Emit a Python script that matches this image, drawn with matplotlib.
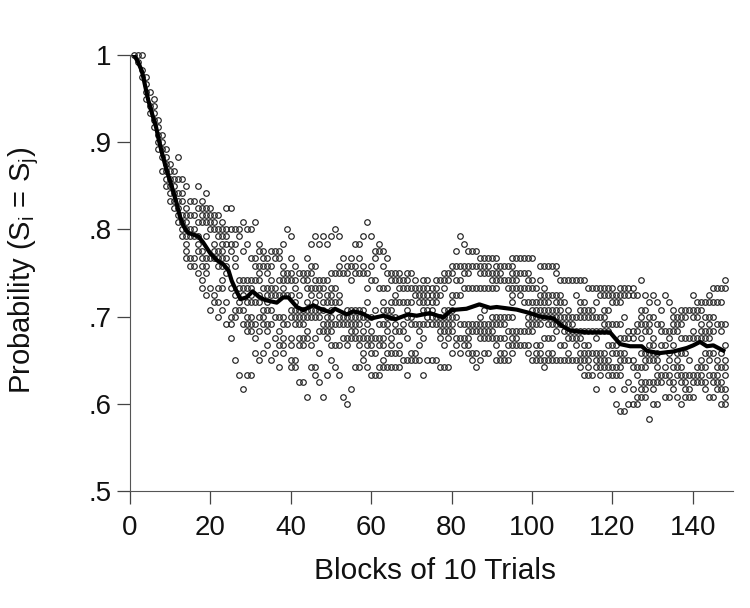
import matplotlib
matplotlib.use('Agg')
import matplotlib.pyplot as plt

plt.rcParams['font.family'] = ['Liberation Sans', 'DejaVu Sans']
plt.rcParams['mathtext.fontset'] = 'custom'
plt.rcParams['mathtext.rm'] = 'Liberation Sans'

# probability level of each row of dots in the scatter
levels = [1.000, .992, .983, .975, .967, .958, .950, .942, .933, .925, .917, .908, .900,
          .892, .883, .875, .867, .858, .850, .842, .833, .825, .817, .808, .800, .792,
          .783, .775, .767, .758, .750, .742, .733, .725, .717, .708, .700, .692, .683,
          .675, .667, .658, .650, .642, .633, .625, .617, .608, .600, .592, .583]

row00 = [1, 2, 3]
row01 = [2]
row02 = [3]
row03 = [3, 4]
row04 = [4]
row05 = [4, 5]
row06 = [4, 6]
row07 = [5, 6]
row08 = [5, 6]
row09 = [6, 7]
row10 = [6, 7]
row11 = [7, 8]
row12 = [7, 8]
row13 = [7, 8, 9]
row14 = [8, 9, 12]
row15 = [9, 10]
row16 = [8, 9, 10, 11]
row17 = [9, 10, 11, 12, 13]
row18 = [9, 10, 11, 14, 17]
row19 = [10, 11, 12, 13, 19]
row20 = [10, 11, 12, 13, 15, 16, 18]
row21 = [11, 12, 14, 17, 18, 19, 20, 24, 25]
row22 = [12, 13, 14, 15, 16, 18, 19, 20, 21, 22]
row23 = [12, 13, 14, 17, 18, 19, 20, 21, 23, 28, 31, 59]
row24 = [13, 14, 15, 16, 20, 21, 22, 23, 24, 25, 26, 27, 29, 30, 39, 51]
row25 = [13, 14, 15, 16, 17, 19, 22, 23, 24, 27, 40, 46, 48, 50, 52, 58, 60, 82]
row26 = [14, 17, 21, 23, 24, 25, 26, 29, 32, 38, 45, 47, 49, 56, 57, 62, 83]
row27 = [14, 17, 18, 21, 22, 23, 25, 28, 32, 33, 35, 36, 37, 61, 62, 63, 81, 84, 85, 86]
row28 = [14, 15, 16, 18, 19, 20, 21, 22, 23, 24, 26, 30, 31, 33, 34, 36, 37, 40, 44, 53, 55,
         57, 61, 64, 87, 88, 89, 90, 91, 95, 96, 97, 98, 99, 100]
row29 = [15, 16, 18, 19, 22, 23, 24, 26, 31, 32, 33, 34, 35, 38, 41, 45, 46, 52, 54, 55, 56,
         58, 60, 63, 80, 81, 82, 83, 84, 85, 86, 87, 88, 89, 91, 92, 93, 94, 95, 102, 103,
         104, 105, 106]
row30 = [17, 19, 24, 32, 34, 38, 39, 40, 42, 43, 44, 45, 50, 51, 52, 53, 54, 56, 57, 58, 59,
         64, 65, 66, 67, 69, 70, 78, 79, 80, 83, 84, 87, 88, 89, 90, 91, 92, 95, 96, 97, 98,
         99, 106]
row31 = [18, 23, 27, 28, 29, 30, 31, 32, 35, 37, 38, 39, 40, 41, 43, 44, 46, 47, 48, 49, 55,
         60, 61, 65, 66, 67, 68, 69, 71, 73, 74, 76, 77, 78, 79, 81, 82, 90, 91, 92, 93, 94,
         95, 96, 99, 100, 102, 107, 108, 109, 110, 111, 112, 113, 127, 148]
row32 = [18, 20, 22, 23, 25, 27, 28, 29, 30, 33, 34, 35, 36, 38, 41, 44, 45, 46, 47, 48, 50,
         51, 59, 62, 63, 64, 67, 68, 69, 70, 71, 72, 73, 74, 75, 76, 78, 83, 84, 85, 86, 87,
         88, 89, 90, 91, 94, 95, 96, 97, 98, 99, 100, 101, 103, 114, 115, 116, 117, 118, 119,
         120, 122, 123, 124, 125, 145, 146, 147, 148]
row33 = [19, 21, 26, 28, 30, 32, 34, 35, 36, 37, 38, 39, 40, 42, 45, 47, 49, 50, 52, 66, 71,
         72, 73, 74, 75, 76, 77, 80, 81, 82, 95, 97, 102, 103, 104, 105, 106, 107, 111, 117,
         118, 119, 120, 121, 122, 123, 124, 125, 126, 128, 130, 133, 140, 144]
row34 = [21, 22, 24, 27, 29, 30, 31, 32, 34, 41, 44, 46, 48, 49, 50, 51, 52, 59, 63, 65, 66,
         67, 68, 69, 70, 72, 73, 74, 75, 76, 80, 95, 98, 99, 100, 101, 102, 103, 104, 106,
         107, 108, 112, 113, 116, 120, 121, 122, 129, 131, 134, 141, 142, 143, 144, 145, 146,
         147]
row35 = [20, 23, 26, 27, 28, 33, 34, 35, 40, 41, 42, 43, 44, 45, 46, 47, 48, 50, 54, 55, 56,
         57, 58, 61, 63, 64, 65, 69, 73, 74, 75, 78, 79, 80, 88, 100, 101, 102, 103, 104, 105,
         106, 107, 109, 112, 113, 114, 115, 118, 119, 127, 128, 132, 135, 137, 138, 139, 140,
         141, 142]
row36 = [22, 25, 26, 29, 30, 32, 33, 36, 37, 38, 40, 41, 42, 43, 44, 45, 46, 47, 49, 50, 52,
         53, 54, 55, 56, 57, 58, 59, 60, 64, 65, 66, 69, 70, 74, 75, 76, 77, 78, 79, 80, 81,
         87, 90, 91, 92, 93, 94, 95, 99, 100, 101, 102, 103, 104, 105, 106, 107, 108, 109,
         110, 111, 112, 113, 114, 115, 116, 117, 118, 123, 127, 129, 130, 135, 136, 137, 138,
         140, 141, 143, 144, 145]
row37 = [24, 25, 28, 29, 30, 31, 33, 34, 35, 38, 39, 41, 42, 43, 48, 49, 50, 51, 52, 53, 54,
         55, 56, 57, 59, 62, 63, 64, 66, 68, 70, 71, 72, 73, 74, 75, 76, 77, 78, 79, 80, 82,
         83, 84, 85, 86, 87, 88, 89, 90, 91, 92, 93, 99, 100, 101, 102, 104, 105, 106, 107,
         108, 109, 110, 118, 119, 120, 121, 122, 126, 127, 128, 129, 131, 132, 135, 136, 137,
         142, 144, 146, 147, 148]
row38 = [29, 30, 32, 34, 37, 44, 47, 48, 49, 50, 55, 56, 58, 60, 64, 66, 67, 68, 72, 77, 78,
         79, 80, 84, 85, 86, 87, 88, 89, 90, 94, 95, 96, 97, 98, 99, 100, 106, 108, 109, 110,
         111, 112, 113, 114, 115, 116, 117, 118, 119, 124, 125, 126, 128, 129, 132, 133, 134,
         135, 136, 140, 142, 143, 144, 145, 147]
row39 = [25, 31, 36, 38, 40, 42, 43, 44, 46, 49, 53, 54, 55, 56, 57, 58, 59, 60, 61, 62, 63,
         65, 69, 73, 77, 79, 81, 82, 83, 84, 87, 88, 89, 90, 91, 92, 93, 95, 96, 103, 104,
         105, 109, 110, 111, 112, 116, 122, 123, 124, 125, 127, 130, 134, 137, 138, 139, 140,
         141, 142, 143, 144]
row40 = [34, 37, 38, 40, 42, 43, 45, 50, 51, 52, 54, 57, 59, 60, 62, 63, 65, 67, 72, 78, 81,
         83, 84, 91, 94, 95, 96, 97, 98, 99, 101, 102, 107, 108, 111, 113, 114, 119, 120, 121,
         129, 130, 132, 133, 135, 148]
row41 = [31, 33, 36, 38, 47, 58, 60, 61, 64, 65, 66, 67, 70, 71, 80, 82, 84, 85, 86, 88, 89,
         92, 93, 95, 99, 101, 102, 104, 105, 109, 112, 113, 114, 115, 116, 117, 118, 120, 121,
         122, 123, 127, 128, 129, 130, 131, 134, 136, 137, 138, 143, 144, 145, 147]
row42 = [26, 32, 35, 40, 41, 50, 58, 63, 68, 69, 70, 71, 72, 74, 75, 76, 85, 87, 91, 92, 93,
         94, 100, 101, 102, 103, 104, 105, 106, 107, 108, 109, 110, 111, 112, 113, 114, 116,
         117, 118, 119, 122, 123, 124, 125, 128, 129, 130, 131, 134, 136, 139, 142, 144, 146,
         148]
row43 = [37, 40, 41, 45, 46, 51, 56, 57, 59, 62, 63, 64, 65, 66, 67, 77, 78, 79, 86, 103, 112,
         114, 116, 117, 118, 119, 120, 121, 122, 125, 126, 127, 128, 131, 133, 135, 136, 137,
         141, 142, 143, 146, 147, 148]
row44 = [27, 29, 30, 46, 49, 52, 60, 61, 62, 69, 73, 113, 114, 115, 117, 119, 120, 121, 122,
         126, 131, 132, 133, 134, 136, 137, 138, 139, 140, 141, 142, 144, 145, 146, 148]
row45 = [42, 43, 47, 124, 127, 128, 129, 130, 131, 132, 134, 135, 137, 138, 140, 141, 142,
         143, 145, 146, 147]
row46 = [28, 55, 116, 120, 123, 125, 127, 128, 130, 135, 138, 139, 143, 146, 147, 148]
row47 = [44, 48, 53, 126, 127, 128, 133, 134, 136, 138, 139, 140, 144, 145, 148]
row48 = [54, 121, 124, 125, 126, 130, 131, 137, 147, 148]
row49 = [122, 123]
row50 = [129]

rows = [row00, row01, row02, row03, row04, row05, row06, row07, row08, row09,
        row10, row11, row12, row13, row14, row15, row16, row17, row18, row19,
        row20, row21, row22, row23, row24, row25, row26, row27, row28, row29,
        row30, row31, row32, row33, row34, row35, row36, row37, row38, row39,
        row40, row41, row42, row43, row44, row45, row46, row47, row48, row49, row50]

# mean curve
mean_blocks = [1, 2, 3, 3.7, 4.5, 5.4, 6.5, 7.3, 8.1, 9.1, 10.4, 11.6, 12.4, 13.4, 14.5, 17,
               18.2, 19.9, 21.5, 23.2, 24.5, 25.3, 26.5, 27.5, 29, 30.5, 32, 33.6, 36.5, 38.1,
               39.4, 41.5, 43.1, 45.6, 47.3, 49.8, 51, 53.9, 55.5, 57.6, 60.1, 63, 66, 69.2,
               71.3, 74.6, 77.9, 80, 83.7, 86.9, 89.6, 91.2, 96.2, 99.5, 102, 105.3, 107.4,
               109.5, 113.6, 117.7, 119.4, 121.9, 124.4, 127.3, 128.5, 131.4, 135.2, 138.5,
               140.1, 141.8, 143.5, 145.1, 147.6]
mean_prob = [1.0, .992, .981, .966, .949, .934, .917, .900, .885, .868, .849, .830, .815, .803,
             .796, .792, .785, .773, .765, .760, .753, .741, .729, .720, .722, .729, .723, .719,
             .716, .722, .722, .711, .7075, .713, .709, .705, .709, .7025, .706, .704, .698,
             .701, .697, .7025, .701, .704, .699, .7075, .709, .714, .710, .711, .708, .704,
             .700, .698, .6895, .684, .682, .682, .682, .6685, .666, .666, .661, .658, .660,
             .664, .667, .671, .666, .667, .661]

xticks = [0, 20, 40, 60, 80, 100, 120, 140]
yticks = [.5, .6, .7, .8, .9, 1]
ylabels = ['.5', '.6', '.7', '.8', '.9', '1']

fig = plt.figure(figsize=(7.5, 6.08), dpi=100)
ax = fig.add_axes([130 / 750, (608 - 491) / 608, 603 / 750, 436 / 608])

for lev, r in zip(levels, rows):
    ax.plot(r, [lev] * len(r), 'o', ms=4, mfc='none', mec='#222222', mew=0.85, clip_on=False)

ax.plot(mean_blocks, mean_prob, color='black', lw=3, solid_joinstyle='round')

ax.set_xlim(0, 150)
ax.set_ylim(.5, 1)
ax.set_xticks(xticks)
ax.set_yticks(yticks)
ax.set_yticklabels(ylabels)
ax.spines['top'].set_visible(False)
ax.spines['right'].set_visible(False)
ax.spines['left'].set_color('#555555')
ax.spines['bottom'].set_color('#555555')
ax.tick_params(axis='both', length=9.5, width=0.9, color='#444444', labelsize=20, labelcolor='#111111')
ax.tick_params(axis='x', pad=8)
ax.tick_params(axis='y', pad=4)

ax.set_xlabel('Blocks of 10 Trials', fontsize=21.5, color='#111111')
ax.xaxis.set_label_coords(.506, -.152)
ax.set_ylabel(r'Probability (S$_{\mathrm{i}}$ = S$_{\mathrm{j}}$)', fontsize=21, color='#111111')
ax.yaxis.set_label_coords(-.148, .505)

fig.savefig('out.png', dpi=100)
